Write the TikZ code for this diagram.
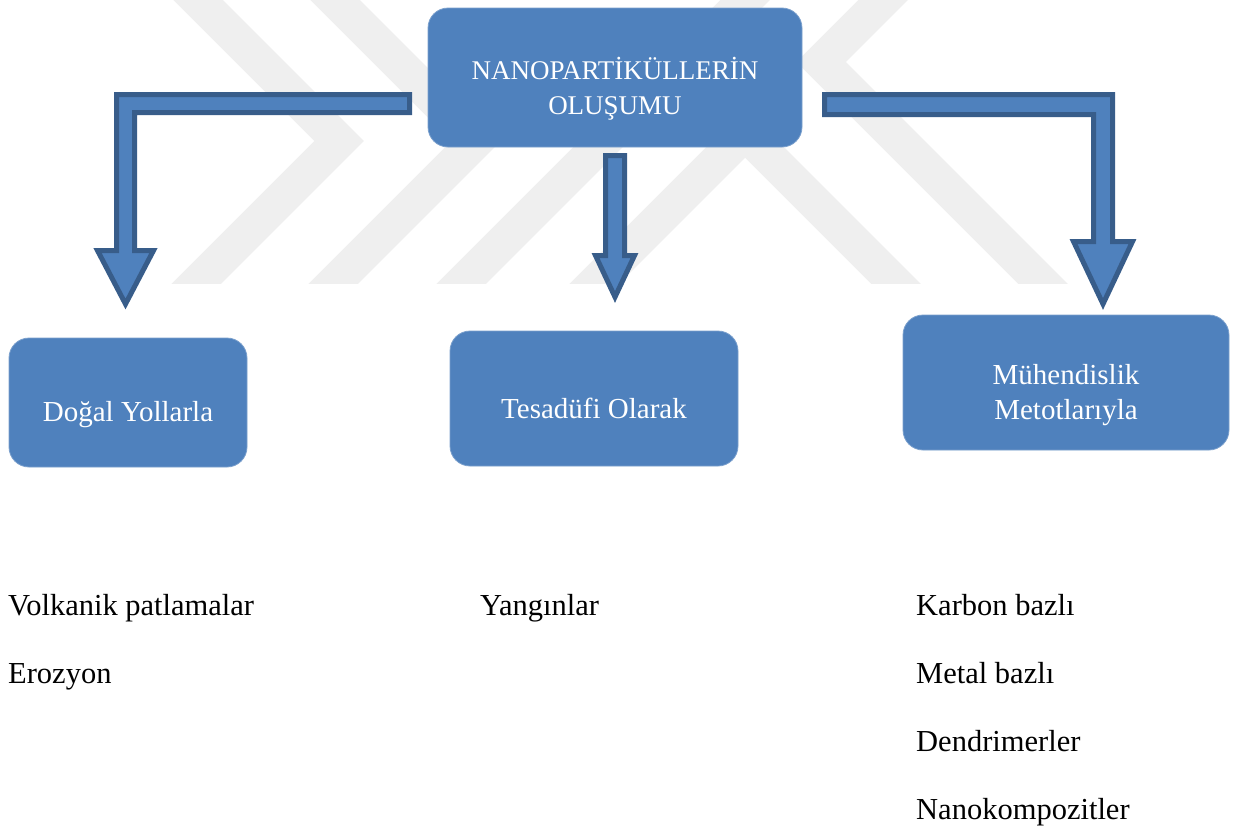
\documentclass[tikz,border=0pt]{standalone}
\usepackage{fontspec}
\setmainfont{Liberation Serif}
\definecolor{boxblue}{HTML}{4F81BD}
\definecolor{edgeblue}{HTML}{385D8A}
\definecolor{wm}{HTML}{EFEFEF}
\begin{document}
\begin{tikzpicture}[x=1pt,y=-1pt,
  box/.style={fill=boxblue, draw=boxblue!75!white, line width=0.8pt, rounded corners=20pt, inner sep=0pt},
  boxtext/.style={text=white, font=\fontsize{29}{35}\selectfont, align=center, inner sep=0pt},
  toptext/.style={text=white, font=\fontsize{27}{35}\selectfont, align=center, inner sep=0pt},
  item/.style={font=\fontsize{30.5}{36}\selectfont, inner sep=0pt, anchor=base west},
  blockarrow/.style={fill=boxblue, draw=edgeblue, line width=5pt, line join=miter},
  wmband/.style={draw=wm, line width=35pt, line join=miter, miter limit=10}]
\useasboundingbox (0,0) rectangle (1234,830);
\fill[white] (0,0) rectangle (1234,830);
% watermark
\begin{scope}
\clip (0,0) rectangle (1234,283);
\draw[wmband] (178,-20) -- (339,141) -- (177,303);
\draw[wmband] (315,-20) -- (476,141) -- (314,303);
\draw[wmband] (442,303) -- (765,-20);
\draw[wmband] (575,303) -- (745,133) -- (915,303);
\draw[wmband] (903,-20) -- (821,62) -- (1062,303);
\end{scope}
% boxes
\node[box, minimum width=374pt, minimum height=139pt] (top) at (615,77.5) {};
\node[toptext, anchor=base] (topT) at (615,114) {NANOPARTİKÜLLERİN\\OLUŞUMU};
\node[box, minimum width=238pt, minimum height=129pt] (left) at (128,402.5) {};
\node[boxtext, anchor=base] (leftT) at (128,421) {Doğal Yollarla};
\node[box, minimum width=288pt, minimum height=135pt] (mid) at (594,398.5) {};
\node[boxtext, anchor=base] (midT) at (594,418) {Tesadüfi Olarak};
\node[box, minimum width=326pt, minimum height=135pt] (right) at (1066,382.5) {};
\node[boxtext, anchor=base] (rightT) at (1066,419) {Mühendislik\\Metotlarıyla};
% block arrows
\draw[blockarrow] (409.5,94.5) -- (116.5,94.5) -- (116.5,250.5) -- (97.5,250.5) -- (125.5,304) -- (153.5,250.5) -- (134.5,250.5) -- (134.5,112.5) -- (409.5,112.5) -- cycle;
\draw[blockarrow] (605.5,155.5) -- (624.5,155.5) -- (624.5,255.5) -- (634.5,255.5) -- (615,297) -- (595.5,255.5) -- (605.5,255.5) -- cycle;
\draw[blockarrow] (824.5,94.5) -- (1112.5,94.5) -- (1112.5,241.5) -- (1132.5,241.5) -- (1103,304) -- (1073.5,241.5) -- (1093.5,241.5) -- (1093.5,114.5) -- (824.5,114.5) -- cycle;
% lists
\node[item] (v1) at (8,615) {Volkanik patlamalar};
\node[item] (v2) at (8,683) {Erozyon};
\node[item] (y1) at (480,615) {Yangınlar};
\node[item] (k1) at (916,615) {Karbon bazlı};
\node[item] (k2) at (916,683) {Metal bazlı};
\node[item] (k3) at (916,751) {Dendrimerler};
\node[item] (k4) at (916,819) {Nanokompozitler};
\end{tikzpicture}
\end{document}
